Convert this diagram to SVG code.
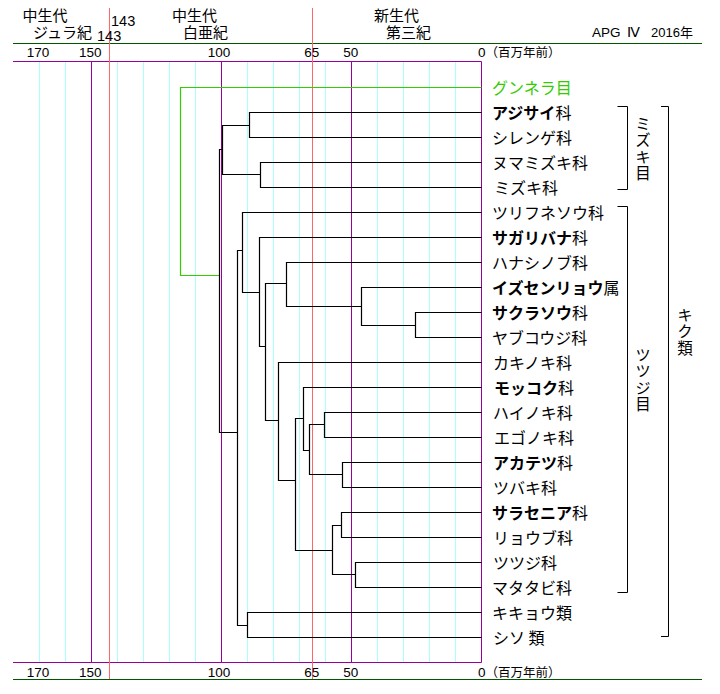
<svg xmlns="http://www.w3.org/2000/svg" width="720" height="694" viewBox="0 0 720 694">
<style>
.bg{fill:#ffffff}
.cy{stroke:#aaffff;stroke-width:1}
.pu{stroke:#990099;stroke-width:1;fill:none}
.rd{stroke:#ff6666;stroke-width:1}
.dg{stroke:#005500;stroke-width:1}
.br{stroke:#000;stroke-width:1;fill:none}
.tr path{stroke:#000;stroke-width:1.2;fill:none}
.num{font-family:"Liberation Sans",Arial,sans-serif;font-size:13.5px;fill:#000}
.hd{font-family:"Liberation Sans","Noto Sans CJK JP",sans-serif;font-size:15px;fill:#000}
.lb{font-family:"Noto Sans CJK JP","Noto Sans",sans-serif;font-size:16px;fill:#000}
.b{font-weight:bold}
.vt{font-family:"Noto Sans CJK JP","Noto Sans",sans-serif;font-size:15.5px;fill:#000;writing-mode:vertical-rl;text-orientation:upright;letter-spacing:1px}
</style>
<rect class="bg" x="0" y="0" width="720" height="694"/>
<g id="grid">
<line class="cy" x1="39.5" y1="61.5" x2="39.5" y2="662.5"/>
<line class="cy" x1="65.5" y1="61.5" x2="65.5" y2="662.5"/>
<line class="cy" x1="117.5" y1="61.5" x2="117.5" y2="662.5"/>
<line class="cy" x1="143.5" y1="61.5" x2="143.5" y2="662.5"/>
<line class="cy" x1="169.5" y1="61.5" x2="169.5" y2="662.5"/>
<line class="cy" x1="195.5" y1="61.5" x2="195.5" y2="662.5"/>
<line class="cy" x1="247.5" y1="61.5" x2="247.5" y2="662.5"/>
<line class="cy" x1="273.5" y1="61.5" x2="273.5" y2="662.5"/>
<line class="cy" x1="299.5" y1="61.5" x2="299.5" y2="662.5"/>
<line class="cy" x1="325.5" y1="61.5" x2="325.5" y2="662.5"/>
<line class="cy" x1="377.5" y1="61.5" x2="377.5" y2="662.5"/>
<line class="cy" x1="403.5" y1="61.5" x2="403.5" y2="662.5"/>
<line class="cy" x1="429.5" y1="61.5" x2="429.5" y2="662.5"/>
<line class="cy" x1="455.5" y1="61.5" x2="455.5" y2="662.5"/>
<line class="pu" x1="91.5" y1="61.5" x2="91.5" y2="662.5"/>
<line class="pu" x1="221.5" y1="61.5" x2="221.5" y2="662.5"/>
<line class="pu" x1="351.5" y1="61.5" x2="351.5" y2="662.5"/>
<line class="pu" x1="481.5" y1="61.5" x2="481.5" y2="662.5"/>
<line class="pu" x1="13" y1="61.5" x2="481.5" y2="61.5"/>
<line class="pu" x1="13" y1="662.5" x2="481.5" y2="662.5"/>
<line class="dg" x1="13" y1="43.5" x2="702" y2="43.5"/>
<line class="dg" x1="13" y1="679.5" x2="702" y2="679.5"/>
<line class="rd" x1="109.5" y1="8" x2="109.5" y2="679"/>
<line class="rd" x1="312.5" y1="8" x2="312.5" y2="679"/>
</g>
<g id="axis-labels">
<text class="hd" x="22.5" y="20.5">中生代</text>
<text class="hd" x="33" y="37.5">ジュラ紀</text>
<text class="num" x="111" y="26" style="font-size:14.5px">143</text>
<text class="num" x="97" y="41" style="font-size:14.5px">143</text>
<text class="hd" x="172" y="20.5">中生代</text>
<text class="hd" x="183" y="37.5">白亜紀</text>
<text class="hd" x="374" y="20.5">新生代</text>
<text class="hd" x="386" y="37.5">第三紀</text>
<text class="num" x="592" y="37" style="font-size:13.5px">APG</text>
<text class="num" x="627" y="37" style="font-size:13.5px">Ⅳ</text>
<text class="num" x="651" y="37" style="font-size:13px">2016<tspan style="font-family:'Noto Sans CJK JP',sans-serif">年</tspan></text>
<g text-anchor="middle">
<text class="num" x="38" y="57">170</text>
<text class="num" x="90.3" y="57">150</text>
<text class="num" x="219" y="57">100</text>
<text class="num" x="311.7" y="57">65</text>
<text class="num" x="350.8" y="57">50</text>
<text class="num" x="38" y="677">170</text>
<text class="num" x="90.3" y="677">150</text>
<text class="num" x="219" y="677">100</text>
<text class="num" x="311.7" y="677">65</text>
<text class="num" x="350.8" y="677">50</text>
</g>
<text class="num" x="478" y="57">0<tspan style="font-family:'Noto Sans CJK JP',sans-serif;font-size:12.5px">（百万年前）</tspan></text>
<text class="num" x="478" y="677">0<tspan style="font-family:'Noto Sans CJK JP',sans-serif;font-size:12.5px">（百万年前）</tspan></text>
</g>
<g id="connectors" class="tr">
<path d="M481.5,87.5 H180.5 V275.5 H219.5" style="stroke:#33cc00"/>
<path d="M481.5,112.5 H249.5 V137.5 H481.5"/>
<path d="M481.5,162.5 H260.5 V187.5 H481.5"/>
<path d="M249.5,125.5 H222.5 V174.5 H260.5"/>
<path d="M222.5,149.5 H219.5 V432.5 H237.5"/>
<path d="M481.5,212.5 H242.5 V292.5 H259.5"/>
<path d="M242.5,250.5 H237.5 V625.5 H247.5"/>
<path d="M481.5,237.5 H259.5 V346.5 H265.5"/>
<path d="M286.5,283.5 H265.5 V420.5 H278.5"/>
<path d="M481.5,262.5 H286.5 V306.5 H361.5"/>
<path d="M481.5,287.5 H361.5 V325.5 H415.5"/>
<path d="M481.5,312.5 H415.5 V337.5 H481.5"/>
<path d="M481.5,362.5 H278.5 V480.5 H295.5"/>
<path d="M303.5,418.5 H295.5 V550.5 H332.5"/>
<path d="M481.5,387.5 H303.5 V450.5 H309.5"/>
<path d="M324.5,424.5 H309.5 V474.5 H342.5"/>
<path d="M481.5,412.5 H324.5 V437.5 H481.5"/>
<path d="M481.5,462.5 H342.5 V487.5 H481.5"/>
<path d="M341.5,525.5 H332.5 V574.5 H355.5"/>
<path d="M481.5,512.5 H341.5 V537.5 H481.5"/>
<path d="M481.5,562.5 H355.5 V587.5 H481.5"/>
<path d="M481.5,612.5 H247.5 V637.5 H481.5"/>
</g>
<g id="leaf-labels">
<text id="n0" class="lb" x="492" y="94" style="fill:#33cc00">グンネラ目</text>
<text id="n1" class="lb" x="492" y="119"><tspan class="b">アジサイ</tspan>科</text>
<text id="n2" class="lb" x="492" y="144">シレンゲ科</text>
<text id="n3" class="lb" x="492" y="169">ヌマミズキ科</text>
<text id="n4" class="lb" x="494" y="194">ミズキ科</text>
<text id="n5" class="lb" x="492" y="219">ツリフネソウ科</text>
<text id="n6" class="lb" x="492" y="244"><tspan class="b">サガリバナ</tspan>科</text>
<text id="n7" class="lb" x="492" y="269">ハナシノブ科</text>
<text id="n8" class="lb" x="492" y="294"><tspan class="b">イズセンリョウ</tspan>属</text>
<text id="n9" class="lb" x="492" y="319"><tspan class="b">サクラソウ</tspan>科</text>
<text id="n10" class="lb" x="492" y="344">ヤブコウジ科</text>
<text id="n11" class="lb" x="493" y="369">カキノキ科</text>
<text id="n12" class="lb" x="494" y="394"><tspan class="b">モッコク</tspan>科</text>
<text id="n13" class="lb" x="493" y="419">ハイノキ科</text>
<text id="n14" class="lb" x="494" y="444">エゴノキ科</text>
<text id="n15" class="lb" x="493" y="469"><tspan class="b">アカテツ</tspan>科</text>
<text id="n16" class="lb" x="493" y="494">ツバキ科</text>
<text id="n17" class="lb" x="492" y="519"><tspan class="b">サラセニア</tspan>科</text>
<text id="n18" class="lb" x="493" y="544">リョウブ科</text>
<text id="n19" class="lb" x="493" y="569">ツツジ科</text>
<text id="n20" class="lb" x="492" y="594">マタタビ科</text>
<text id="n21" class="lb" x="492" y="619">キキョウ類</text>
<text id="n22" class="lb" x="493" y="644">シソ 類</text>
</g>
<g id="bracket-mizuki">
<path class="br" d="M617.5,106.5 H627.5 V189.5 H617.5"/>
<text class="vt" x="643" y="116">ミズキ目</text>
</g>
<g id="bracket-tsutsuji">
<path class="br" d="M617.5,206.5 H627.5 V592.5 H617.5"/>
<text class="vt" x="643" y="347">ツツジ目</text>
</g>
<g id="bracket-kiku">
<path class="br" d="M661,106.5 H668.5 V636.5 H661"/>
<text class="vt" x="685" y="307">キク類</text>
</g>
</svg>
